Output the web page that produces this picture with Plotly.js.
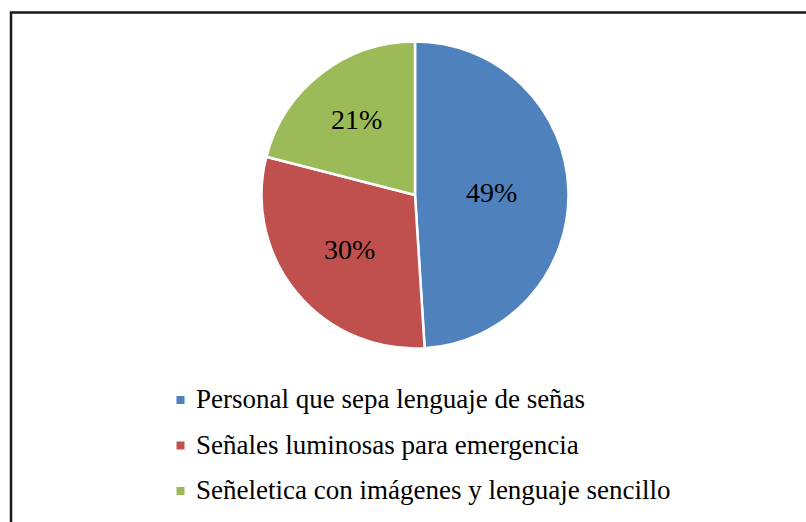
<!DOCTYPE html>
<html>
<head>
<meta charset="utf-8">
<script src="https://cdn.plot.ly/plotly-3.0.1.min.js"></script>
<style>
html,body{margin:0;padding:0;background:#fff;}
#chart{width:806px;height:522px;}
</style>
</head>
<body>
<div id="chart"></div>
<script>
var categories = [
  "Personal que sepa lenguaje de señas",
  "Señales luminosas para emergencia",
  "Señeletica con imágenes y lenguaje sencillo"
];
var values = [49, 30, 21];
var colors = ["#4F81BD", "#C0504D", "#9BBB59"];

var W = 806, H = 522;
var cx = 415, cy = 195, R = 153.5;
var FONT = "'Times New Roman', 'Liberation Serif', Tinos, 'DejaVu Serif', serif";

function px(x){ return x / W; }
function py(y){ return 1 - y / H; }

var trace = {
  type: "pie",
  labels: categories,
  values: values,
  sort: false,
  direction: "clockwise",
  rotation: 0,
  marker: { colors: colors, line: { color: "#ffffff", width: 2.5 } },
  textinfo: "percent",
  textposition: "inside",
  insidetextorientation: "horizontal",
  textfont: { family: FONT, size: 28, color: "#000000" },
  hoverinfo: "label+percent",
  showlegend: false,
  automargin: false,
  domain: { x: [px(cx - R), px(cx + R)], y: [py(cy + R), py(cy - R)] }
};

var rowY = [400, 445.5, 491];
var annotations = [];
var shapes = [];
for (var i = 0; i < categories.length; i++) {
  annotations.push({
    xref: "paper", yref: "paper",
    x: px(194), y: py(rowY[i] - 1),
    xanchor: "left", yanchor: "middle",
    text: categories[i], showarrow: false,
    font: { family: FONT, size: 27, color: "#000000" }
  });
  shapes.push({
    type: "rect", xref: "paper", yref: "paper",
    x0: px(176.5), x1: px(184.5), y0: py(rowY[i] + 4), y1: py(rowY[i] - 4),
    fillcolor: colors[i], line: { width: 0 }
  });
}
// outer frame
shapes.push({
  type: "rect", xref: "paper", yref: "paper",
  x0: px(11), x1: px(W + 20), y0: py(H + 20), y1: py(12.5),
  fillcolor: "rgba(0,0,0,0)", line: { color: "#1a1a1a", width: 2.5 }
});

var layout = {
  width: W, height: H,
  margin: { l: 0, r: 0, t: 0, b: 0 },
  paper_bgcolor: "#ffffff",
  plot_bgcolor: "#ffffff",
  showlegend: false,
  font: { family: FONT },
  annotations: annotations,
  shapes: shapes
};

Plotly.newPlot("chart", [trace], layout, { displayModeBar: false, staticPlot: true });
</script>
</body>
</html>
